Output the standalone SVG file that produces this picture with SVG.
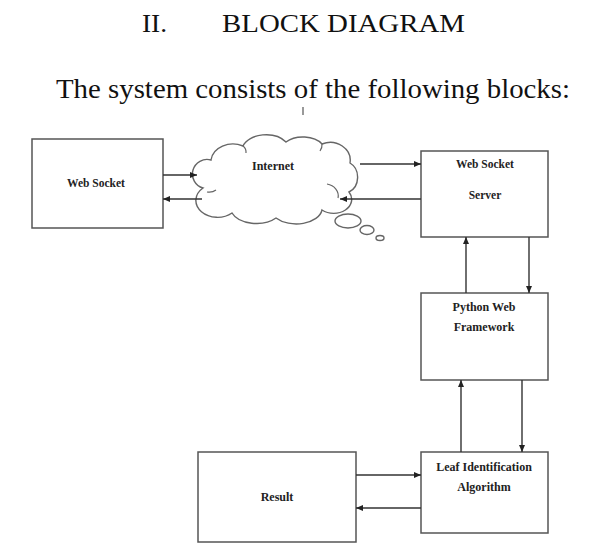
<svg xmlns="http://www.w3.org/2000/svg" width="599" height="555" viewBox="0 0 599 555">
<defs>
<marker id="ah" markerUnits="userSpaceOnUse" markerWidth="8" markerHeight="7" refX="7" refY="3" orient="auto">
<path d="M0,0 L7,3 L0,6 z" fill="#222"/>
</marker>
<style>
.box{fill:#fff;stroke:#555;stroke-width:1.5}
.con{stroke:#333;stroke-width:1.4;fill:none;marker-end:url(#ah)}
.lbl{font-family:"Liberation Serif","Times New Roman",serif;font-weight:bold;fill:#222;text-anchor:middle}
.hd{font-family:"Liberation Serif","Times New Roman",serif;fill:#111}
.cl{fill:#fff;stroke:#666;stroke-width:1.4}
.curl{fill:none;stroke:#666;stroke-width:1.2}
</style>
</defs>
<rect width="599" height="555" fill="#fff"/>
<text class="hd" x="142" y="32" font-size="26" textLength="25" lengthAdjust="spacingAndGlyphs">II.</text>
<text class="hd" x="222" y="32" font-size="26" textLength="243" lengthAdjust="spacingAndGlyphs">BLOCK DIAGRAM</text>
<text class="hd" x="56" y="98" font-size="27" textLength="514" lengthAdjust="spacingAndGlyphs">The system consists of the following blocks:</text>
<line x1="303" y1="107" x2="303" y2="115" stroke="#555" stroke-width="1.2"/>

<g id="web-socket">
<rect class="box" x="32" y="139" width="131" height="89"/>
<text class="lbl" x="96" y="187" font-size="11.5">Web Socket</text>
</g>

<g id="internet">
<path class="cl" d="M203,188 A14,14 0 0 1 211,160 A22,18 0 0 1 243,146 A24,16 0 0 1 286,142 A22,14 0 0 1 322,144 A20,18 0 0 1 350,163 A14,16 0 0 1 349,192 A18,14 0 0 1 322,210 A26,16 0 0 1 276,218 A26,16 0 0 1 232,213 A18,14 0 0 1 203,188 Z"/>
<path class="curl" d="M207,192 A10,8 0 0 0 216,190"/>
<path class="curl" d="M327,184 A14,12 0 0 1 338,198"/>
<path class="curl" d="M243,146 A8,8 0 0 1 246,153"/>
<path class="curl" d="M322,144 A10,10 0 0 1 320,151"/>
<ellipse class="cl" cx="348" cy="221" rx="13" ry="7"/>
<ellipse class="cl" cx="367" cy="230" rx="7" ry="4.5"/>
<ellipse class="cl" cx="380" cy="238" rx="4" ry="2.5"/>
<text class="lbl" x="273" y="170" font-size="12">Internet</text>
</g>

<g id="web-socket-server">
<rect class="box" x="421" y="151" width="127" height="86"/>
<text class="lbl" x="485" y="168" font-size="11.5">Web Socket</text>
<text class="lbl" x="485" y="199" font-size="11.5">Server</text>
</g>

<g id="python-web-framework">
<rect class="box" x="421" y="293" width="127" height="87"/>
<text class="lbl" x="484" y="311" font-size="12">Python Web</text>
<text class="lbl" x="484" y="331" font-size="12">Framework</text>
</g>

<g id="leaf-identification">
<rect class="box" x="421" y="452" width="127" height="81"/>
<text class="lbl" x="484" y="471" font-size="12">Leaf Identification</text>
<text class="lbl" x="484" y="491" font-size="12">Algorithm</text>
</g>

<g id="result">
<rect class="box" x="198" y="452" width="158" height="90"/>
<text class="lbl" x="277" y="501" font-size="12">Result</text>
</g>

<g id="connectors">
<line class="con" x1="163" y1="175" x2="197" y2="175"/>
<line class="con" x1="202" y1="199" x2="163" y2="199"/>
<line class="con" x1="360" y1="164" x2="421" y2="164"/>
<line class="con" x1="421" y1="199" x2="340" y2="199"/>
<line class="con" x1="466" y1="293" x2="466" y2="237"/>
<line class="con" x1="529" y1="237" x2="529" y2="293"/>
<line class="con" x1="461" y1="452" x2="461" y2="380"/>
<line class="con" x1="522" y1="380" x2="522" y2="452"/>
<line class="con" x1="356" y1="475" x2="421" y2="475"/>
<line class="con" x1="421" y1="508" x2="356" y2="508"/>
</g>
</svg>
